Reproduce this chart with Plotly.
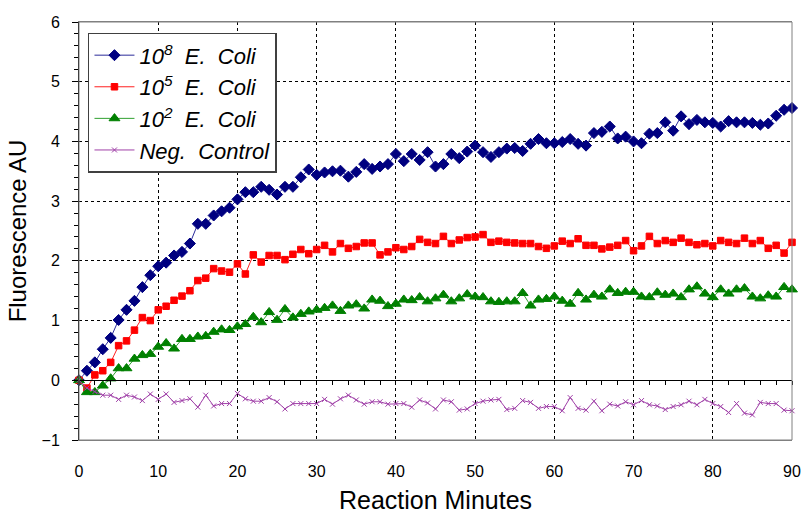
import plotly.graph_objects as go

minutes = list(range(0, 91))

ecoli_1e8 = [0, 0.16, 0.30, 0.52, 0.71, 1.01, 1.18, 1.33, 1.56, 1.76,
             1.91, 1.97, 2.09, 2.15, 2.29, 2.62, 2.62, 2.76, 2.83, 2.89,
             3.03, 3.15, 3.15, 3.24, 3.19, 3.11, 3.24, 3.24, 3.40, 3.53,
             3.44, 3.48, 3.50, 3.51, 3.41, 3.49, 3.62, 3.54, 3.58, 3.62,
             3.79, 3.67, 3.79, 3.69, 3.82, 3.58, 3.62, 3.79, 3.72, 3.83,
             3.93, 3.82, 3.74, 3.82, 3.88, 3.89, 3.84, 3.96, 4.04, 3.97,
             3.97, 3.99, 4.04, 3.96, 3.93, 4.14, 4.16, 4.25, 4.05, 4.08,
             4.00, 3.97, 4.13, 4.14, 4.32, 4.18, 4.42, 4.29, 4.36, 4.32,
             4.31, 4.25, 4.34, 4.32, 4.32, 4.31, 4.28, 4.30, 4.43, 4.53,
             4.56]

ecoli_1e5 = [0, -0.13, 0.09, 0.16, 0.30, 0.58, 0.66, 0.84, 1.05, 1.00,
             1.18, 1.24, 1.34, 1.41, 1.50, 1.67, 1.71, 1.87, 1.83, 1.81,
             1.95, 1.78, 2.10, 1.98, 2.09, 2.09, 2.02, 2.11, 2.19, 2.12,
             2.19, 2.26, 2.15, 2.29, 2.21, 2.24, 2.30, 2.30, 2.10, 2.15,
             2.22, 2.19, 2.24, 2.36, 2.31, 2.29, 2.41, 2.29, 2.35, 2.39,
             2.40, 2.44, 2.31, 2.33, 2.31, 2.30, 2.29, 2.29, 2.24, 2.21,
             2.25, 2.33, 2.29, 2.37, 2.26, 2.26, 2.20, 2.23, 2.26, 2.34,
             2.17, 2.25, 2.41, 2.29, 2.34, 2.31, 2.38, 2.31, 2.27, 2.29,
             2.25, 2.34, 2.31, 2.29, 2.38, 2.29, 2.34, 2.21, 2.26, 2.13,
             2.31]

ecoli_1e2 = [0, -0.20, -0.20, -0.09, 0.03, 0.20, 0.20, 0.36, 0.42, 0.44,
             0.56, 0.62, 0.53, 0.69, 0.69, 0.73, 0.74, 0.81, 0.85, 0.84,
             0.90, 0.94, 1.06, 0.97, 1.14, 1.01, 1.19, 1.05, 1.11, 1.15,
             1.18, 1.21, 1.25, 1.16, 1.25, 1.27, 1.20, 1.35, 1.33, 1.24,
             1.28, 1.35, 1.34, 1.39, 1.32, 1.37, 1.43, 1.32, 1.37, 1.44,
             1.40, 1.39, 1.32, 1.31, 1.32, 1.32, 1.46, 1.25, 1.35, 1.36,
             1.40, 1.33, 1.28, 1.46, 1.35, 1.43, 1.40, 1.52, 1.46, 1.48,
             1.48, 1.40, 1.39, 1.47, 1.43, 1.45, 1.39, 1.52, 1.57, 1.45,
             1.39, 1.52, 1.45, 1.52, 1.54, 1.40, 1.37, 1.42, 1.40, 1.56,
             1.52]

neg_control = [0, -0.13, -0.19, -0.25, -0.25, -0.32, -0.25, -0.28, -0.34, -0.23,
               -0.32, -0.23, -0.37, -0.34, -0.31, -0.45, -0.25, -0.43, -0.39, -0.39,
               -0.22, -0.31, -0.35, -0.35, -0.29, -0.36, -0.48, -0.39, -0.39, -0.39,
               -0.39, -0.32, -0.40, -0.31, -0.25, -0.33, -0.40, -0.36, -0.36, -0.40,
               -0.39, -0.39, -0.45, -0.33, -0.38, -0.48, -0.33, -0.36, -0.50, -0.48,
               -0.39, -0.35, -0.33, -0.32, -0.49, -0.47, -0.34, -0.37, -0.47, -0.44,
               -0.44, -0.51, -0.29, -0.47, -0.50, -0.35, -0.51, -0.40, -0.43, -0.36,
               -0.41, -0.34, -0.41, -0.43, -0.49, -0.44, -0.41, -0.35, -0.41, -0.32,
               -0.39, -0.44, -0.54, -0.39, -0.55, -0.58, -0.37, -0.39, -0.39, -0.50,
               -0.51]

NB = "\u00a0"
series_names = [f"10<sup>8</sup>{NB} E.{NB} Coli", f"10<sup>5</sup>{NB} E.{NB} Coli",
                f"10<sup>2</sup>{NB} E.{NB} Coli", f"Neg.{NB} Control"]

x_ticks = [0, 10, 20, 30, 40, 50, 60, 70, 80, 90]
y_ticks = [-1, 0, 1, 2, 3, 4, 5, 6]

FONT = "Arial, Liberation Sans, sans-serif"

fig = go.Figure()

styles = [
    dict(data=ecoli_1e8, line="#2b2b9a", marker="#000080", symbol="diamond", size=8.5),
    dict(data=ecoli_1e5, line="#ff2020", marker="#ff0000", symbol="square", size=6.5),
    dict(data=ecoli_1e2, line="#30a030", marker="#008000", symbol="triangle-up", size=9.5),
    dict(data=neg_control, line="#a040a8", marker="#a040a8", symbol="x-thin", size=5),
]

for i, (name, st) in enumerate(zip(series_names, styles)):
    fig.add_trace(go.Scatter(
        x=minutes, y=st["data"], name=name, mode="lines+markers",
        legendgroup=f"g{i}",
        line=dict(color=st["line"], width=1),
        marker=dict(color=st["marker"], symbol=st["symbol"], size=st["size"],
                    line=dict(color=st["marker"], width=1)),
        cliponaxis=False,
    ))

# invisible trace on overlay axis drawn at y = 0 (axis with minute ticks)
fig.add_trace(go.Scatter(x=[0, 90], y=[0, 0], xaxis="x2", mode="lines",
                         line=dict(color="rgba(0,0,0,0)"), showlegend=False,
                         hoverinfo="skip"))

fig.update_layout(
    width=803, height=516,
    margin=dict(l=79, r=11, t=22, b=76, autoexpand=False),
    paper_bgcolor="white", plot_bgcolor="white",
    font=dict(family=FONT, color="black"),
    showlegend=True,
    legend=dict(
        x=0.0126, y=0.974, xanchor="left", yanchor="top",
        bgcolor="white", bordercolor="#404040", borderwidth=1.5,
        font=dict(size=22, style="italic", family=FONT),
        tracegroupgap=0, itemwidth=40,
    ),
    xaxis=dict(
        range=[0, 90], tickvals=x_ticks, showgrid=True, automargin=False,
        gridcolor="black", griddash="3px,3px", gridwidth=1,
        showline=True, linecolor="#808080", linewidth=1, mirror=True,
        ticks="", tickfont=dict(size=16), ticklabelstandoff=17,
        title=dict(text="Reaction Minutes", font=dict(size=25), standoff=12),
        zeroline=False,
    ),
    xaxis2=dict(
        range=[0, 90], overlaying="x", anchor="free", position=1/7,
        side="bottom", showline=True, linecolor="black", linewidth=1,
        ticks="outside", tickvals=list(range(0, 91, 2)), ticklen=4,
        tickcolor="black", showticklabels=False, showgrid=False, zeroline=False,
    ),
    yaxis=dict(
        range=[-1, 6], tickvals=y_ticks, showgrid=True, automargin=False,
        gridcolor="black", griddash="3px,3px", gridwidth=1,
        showline=True, linecolor="black", linewidth=1, mirror=False,
        ticks="outside", ticklen=6, tickcolor="black",
        minor=dict(dtick=0.2, ticks="outside", ticklen=4, tickcolor="black", showgrid=False),
        tickfont=dict(size=16), ticklabelstandoff=9,
        title=dict(text="Fluorescence AU", font=dict(size=24), standoff=8),
        zeroline=False,
    ),
    shapes=[dict(type="rect", xref="x domain", yref="y domain", x0=0, x1=1, y0=0, y1=1,
                 line=dict(color="#808080", width=1), layer="above")],
)

fig.write_html("out.html")
